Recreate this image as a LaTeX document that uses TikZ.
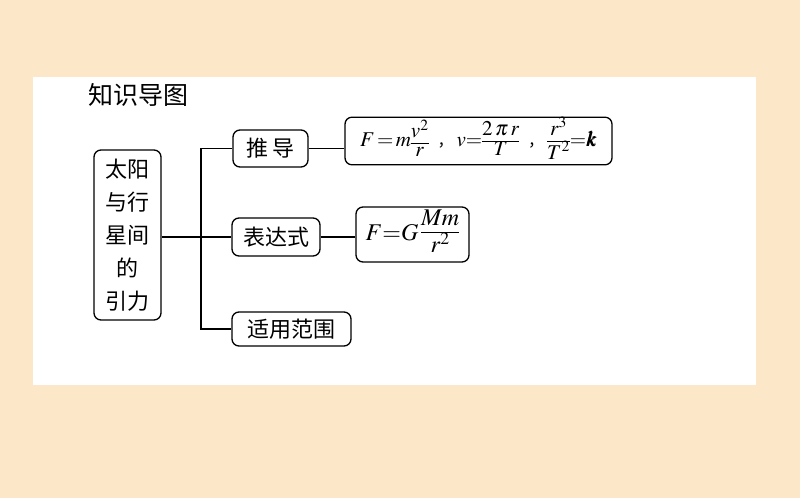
\documentclass[tikz,border=0pt]{standalone}
\usepackage{amsmath}
\usepackage{mathptmx}
\usepackage{bm}
\usepackage{fontspec}
\setmainfont{Liberation Serif}
\newfontfamily\cjk{Noto Sans CJK SC}
\definecolor{peach}{HTML}{FCE8C8}
\newcommand\myfr[2]{{\renewcommand\arraystretch{0.78}\begin{array}{@{}c@{}}#1\\\hline#2\end{array}}}
\newcommand\zhcomma{\hspace{9pt}{\cjk\fontsize{16}{16}\selectfont ，}\hspace{3pt}}
\begin{document}
\begin{tikzpicture}[x=1pt,y=-1pt,
  box/.style={draw=black, line width=1.3pt, rounded corners=7pt, fill=white, inner sep=0pt, align=center},
  link/.style={draw=black, line width=1.3pt},
  cn/.style={font=\cjk\fontsize{22}{33}\selectfont}]
\useasboundingbox (0,0) rectangle (800,498);
\fill[peach] (0,0) rectangle (800,498);
\fill[white] (33,77) rectangle (756,385);
\node[cn, font=\cjk\fontsize{25}{28}\selectfont] (title) at (138,95) {知识导图};
\node[box, cn, minimum width=67pt, minimum height=170pt] (main) at (127.5,235) {太阳\\与行\\星间\\的\\引力};
\node[box, cn, minimum width=75pt, minimum height=37pt] (tui) at (270.5,148.5) {推\,导};
\node[box, cn, minimum width=88pt, minimum height=38pt] (expr) at (276,237) {表达式};
\node[box, cn, minimum width=119pt, minimum height=34pt] (scope) at (291.5,329) {适用范围};
\node[box, minimum width=267pt, minimum height=46pt, font=\fontsize{21}{24}\selectfont] (f1) at (478.5,141)
  {$F{\,=\,}m\myfr{v^2}{r}$\zhcomma$v{=}\myfr{2\,\pi\, r}{T}$\zhcomma$\myfr{r^3}{T^2}{=}\bm{k}$};
\node[box, minimum width=113pt, minimum height=55pt, font=\fontsize{24}{28}\selectfont] (f2) at (412.5,234.5)
  {$F{=}G\,\myfr{Mm}{r^2}$};
\coordinate (jt) at (201,148.5);
\coordinate (jb) at (201,329);
\draw[link] (tui.west) -- (jt) -- (jb) -- (scope.west);
\draw[link] (main.east |- expr.west) -- (expr.west);
\draw[link] (tui.east) -- (tui.east -| f1.west);
\draw[link] (expr.east) -- (expr.east -| f2.west);
\end{tikzpicture}
\end{document}
